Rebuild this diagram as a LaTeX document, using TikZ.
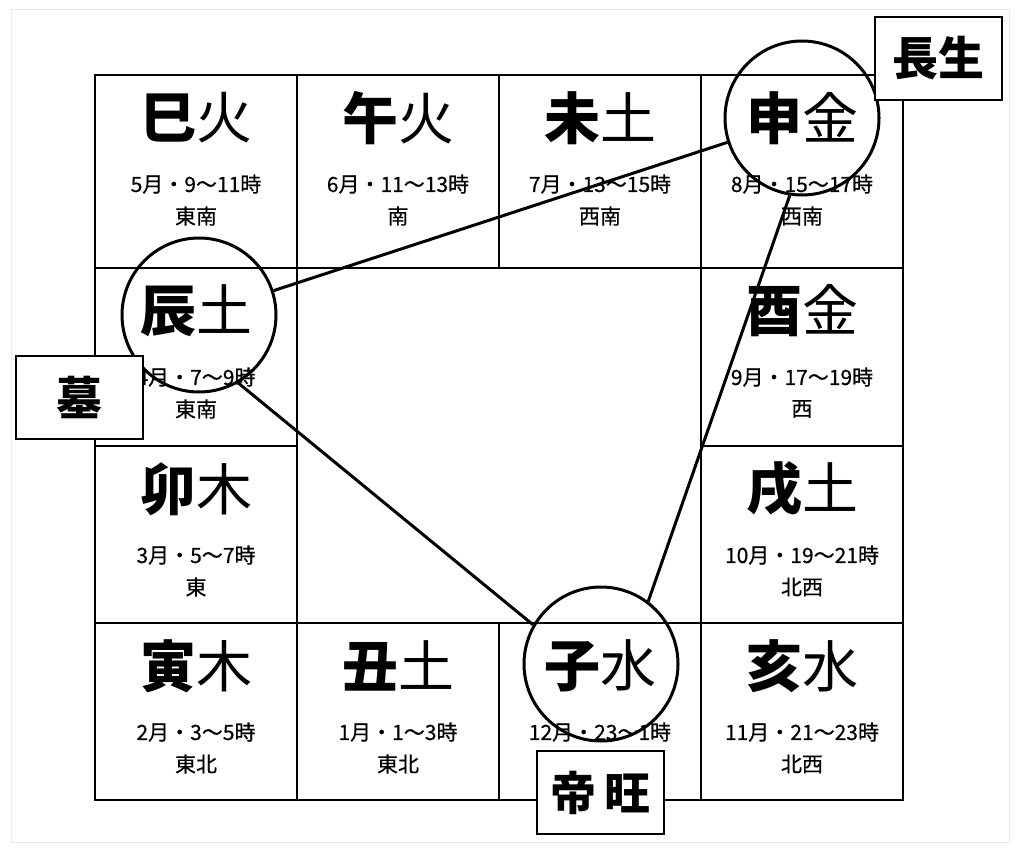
\documentclass[tikz,border=0pt]{standalone}
\usepackage{fontspec}
\newfontfamily\cjk{Noto Sans CJK JP}
\newfontfamily\cjkm{Noto Sans CJK JP}[FakeBold=0.5]
\tikzset{
  gridline/.style={line width=2.5pt, black},
  bigtxt/.style={font=\cjk\fontsize{56}{60}\selectfont, inner sep=0pt, anchor=center},
  smalltxt/.style={font=\cjkm\fontsize{21}{23}\selectfont, inner sep=0pt, anchor=center},
  ring/.style={circle, draw, line width=3pt, minimum size=154pt, inner sep=0pt},
  conn/.style={line width=3pt, black},
  tag/.style={draw, line width=2pt, fill=white, minimum width=127pt, minimum height=83pt, inner sep=0pt, font=\cjk\bfseries\fontsize{46}{50}\selectfont},
}
\newcommand\mycell[7]{%
  \node[bigtxt] (#1) at (#2,#3+43) {{\bfseries #4}#5};
  \node[smalltxt] (#1a) at (#2,#3+109) {#6};
  \node[smalltxt] (#1b) at (#2,#3+141) {#7};
}
\begin{document}
\begin{tikzpicture}[x=1pt,y=-1pt]
\useasboundingbox (0,0) rectangle (1022,851);
\draw[black!8, line width=1pt] (11,10) rectangle (1009,842);
% grid
\draw[gridline] (95,75) rectangle (903,800);
\draw[gridline] (297,75) -- (297,800);
\draw[gridline] (701,75) -- (701,800);
\draw[gridline] (499,75) -- (499,268);
\draw[gridline] (499,623) -- (499,800);
\draw[gridline] (95,268) -- (903,268);
\draw[gridline] (95,623) -- (903,623);
\draw[gridline] (95,446) -- (297,446);
\draw[gridline] (701,446) -- (903,446);
% cells
\mycell{si}{196}{75}{巳}{火}{5月・9〜11時}{東南}
\mycell{wu}{398}{75}{午}{火}{6月・11〜13時}{南}
\mycell{wei}{600}{75}{未}{土}{7月・13〜15時}{西南}
\mycell{shn}{802}{75}{申}{金}{8月・15〜17時}{西南}
\mycell{chn}{196}{268}{辰}{土}{4月・7〜9時}{東南}
\mycell{you}{802}{268}{酉}{金}{9月・17〜19時}{西}
\mycell{mao}{196}{446}{卯}{木}{3月・5〜7時}{東}
\mycell{xu}{802}{446}{戌}{土}{10月・19〜21時}{北西}
\mycell{yin}{196}{623}{寅}{木}{2月・3〜5時}{東北}
\mycell{chou}{398}{623}{丑}{土}{1月・1〜3時}{東北}
\node[bigtxt] (zic) at (600,666) {{\bfseries 子}水};
\node[smalltxt] (zica) at (600,732) {12月・23〜1時};
\mycell{hai}{802}{623}{亥}{水}{11月・21〜23時}{北西}
% circles
\node[ring] (shen) at (802,118) {};
\node[ring] (chen) at (199,315) {};
\node[ring] (zi) at (601,664) {};
% connectors
\draw[conn] (chen) -- (shen);
\draw[conn] (shen.-99) -- (zi.53);
\draw[conn] (chen.-60) -- (zi.150);
% tags
\node[tag] (changsheng) at (938.5,58.5) {長生};
\node[tag] (mu) at (79.5,397.5) {墓};
\node[tag] (diwang) at (600.5,792.5) {帝\kern8pt 旺};
\end{tikzpicture}
\end{document}
